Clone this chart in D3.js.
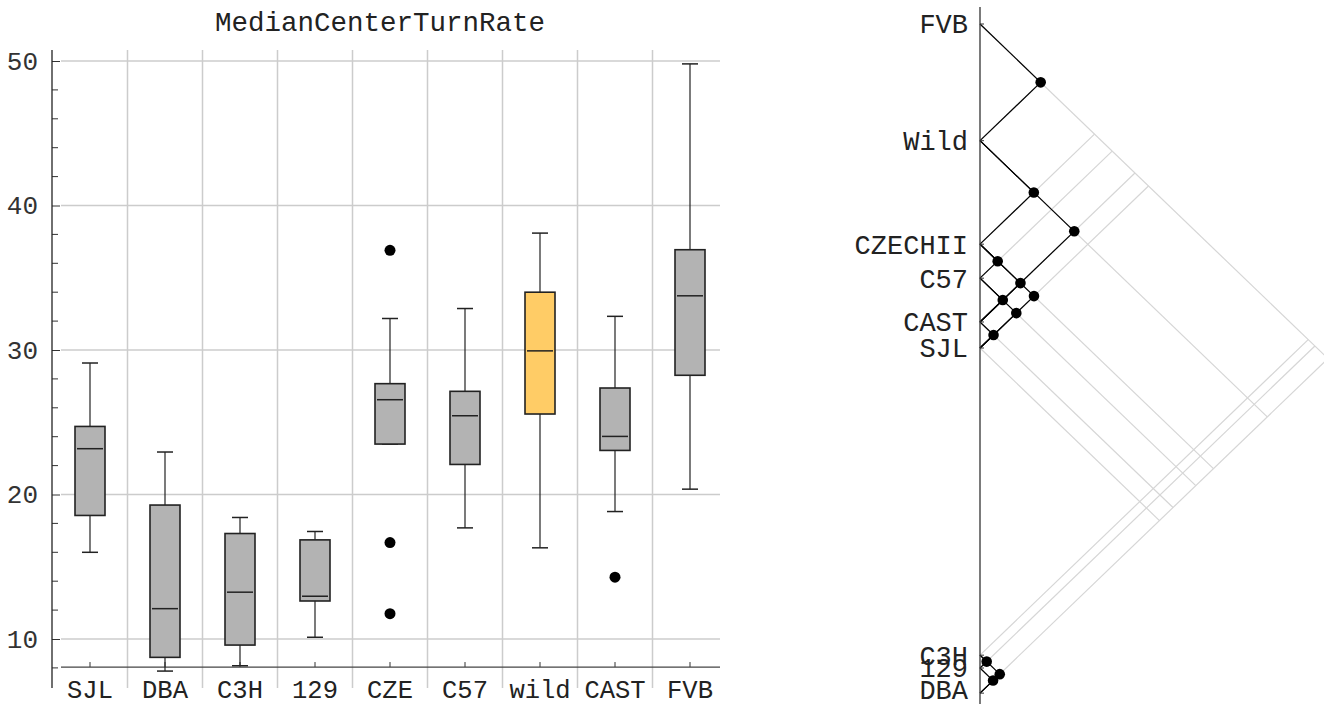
<!DOCTYPE html>
<html>
<head>
<meta charset="utf-8">
<script src="https://cdn.jsdelivr.net/npm/d3@7"></script>
<style>
  body { margin: 0; background: #fff; }
  svg { display: block; }
  text { font-family: "Liberation Mono", "DejaVu Sans Mono", monospace; }
</style>
</head>
<body>
<svg id="chart" width="1324" height="704"></svg>
<script>
// ---------- box plot data ----------
const categories = ["SJL", "DBA", "C3H", "129", "CZE", "C57", "wild", "CAST", "FVB"];
const whiskerLow = [16.0, 7.78, 8.15, 10.12, 23.49, 17.69, 16.31, 18.82, 20.37];
const q1 = [18.55, 8.73, 9.58, 12.63, 23.49, 22.08, 25.57, 23.05, 28.25];
const medians = [23.17, 12.1, 13.24, 12.96, 26.56, 25.45, 29.94, 24.02, 33.75];
const q3 = [24.71, 19.27, 17.3, 16.86, 27.67, 27.14, 34.0, 27.37, 36.94];
const whiskerHigh = [29.1, 22.94, 18.41, 17.44, 32.18, 32.87, 38.09, 32.33, 49.8];
const outliers = [[], [], [], [], [36.9, 16.67, 11.75], [], [], [14.28], []];
const highlight = "wild";
const yTicks = [10, 20, 30, 40, 50];

// ---------- dendrogram data ----------
const leaves = ["FVB", "Wild", "CZECHII", "C57", "CAST", "SJL", "C3H", "129", "DBA"];
const leafValues = [33.75, 29.94, 26.56, 25.45, 24.02, 23.17, 13.14, 12.72, 11.9];
const linkedPairs = [
    ["FVB", "Wild"], ["Wild", "CZECHII"], ["Wild", "CAST"],
    ["CZECHII", "C57"], ["CZECHII", "CAST"], ["C57", "CAST"],
    ["CZECHII", "SJL"], ["C57", "SJL"], ["CAST", "SJL"],
    ["C3H", "129"], ["C3H", "DBA"], ["129", "DBA"]
];

const svg = d3.select("#chart");

//------------------- box plot ----------------------------------------
const y = d3.scaleLinear().domain([10, 50]).range([639, 61]);
const x = d3.scaleBand().domain(categories).range([52.5, 727.5]);
const axisX = 52, gridLeft = 61, gridRight = 720;
const yTopVal = y.invert(50), yBotVal = y.invert(688), xAxisVal = 8.06;

// vertical grid lines between categories
const bounds = categories.slice(1).map(c => x(c));
svg.append("g").selectAll("line").data(bounds).join("line")
    .attr("x1", d => d).attr("x2", d => d)
    .attr("y1", y(yTopVal)).attr("y2", y(yBotVal))
    .attr("stroke", "#cccccc").attr("stroke-width", 1.5);

// horizontal grid lines
svg.append("g").selectAll("line").data(yTicks).join("line")
    .attr("x1", gridLeft).attr("x2", gridRight)
    .attr("y1", d => y(d)).attr("y2", d => y(d))
    .attr("stroke", "#cccccc").attr("stroke-width", 1.5);

// y axis (major + minor ticks pointing right)
const yAxis = svg.append("g").attr("transform", "translate(" + axisX + ",0)")
    .call(d3.axisLeft(y).tickValues(yTicks).tickSizeInner(-8).tickSizeOuter(0).tickPadding(14));
yAxis.select(".domain").remove();
yAxis.selectAll("line").attr("stroke", "#333");
yAxis.selectAll("text").attr("font-size", 26).attr("fill", "#333")
    .attr("font-family", "Liberation Mono, DejaVu Sans Mono, monospace");
const minorTicks = d3.range(8, 51, 2).filter(v => v % 10 != 0 && v <= yTopVal);
svg.append("g").selectAll("line").data(minorTicks).join("line")
    .attr("x1", axisX).attr("x2", axisX + 6)
    .attr("y1", d => y(d)).attr("y2", d => y(d))
    .attr("stroke", "#333");
svg.append("line")
    .attr("x1", axisX).attr("x2", axisX)
    .attr("y1", y(yTopVal)).attr("y2", y(yBotVal))
    .attr("stroke", "#222").attr("stroke-width", 1.3);

// x axis
const xAxis = svg.append("g").attr("transform", "translate(0," + y(xAxisVal) + ")")
    .call(d3.axisBottom(x).tickSizeInner(-5).tickSizeOuter(0).tickPadding(13));
xAxis.select(".domain").remove();
xAxis.selectAll("line").attr("stroke", "#333");
xAxis.selectAll("text").attr("font-size", 25.5).attr("fill", "#222")
    .attr("font-family", "Liberation Mono, DejaVu Sans Mono, monospace");
svg.append("line")
    .attr("x1", gridLeft).attr("x2", gridRight)
    .attr("y1", y(xAxisVal)).attr("y2", y(xAxisVal))
    .attr("stroke", "#444").attr("stroke-width", 1.3);

// boxes
const boxW = 30, capW = 16;
const boxes = svg.append("g").selectAll("g").data(categories).join("g");
boxes.each(function (c, i) {
    var g = d3.select(this);
    var cx = x(c) + x.bandwidth() / 2;
    // whiskers
    g.append("line").attr("x1", cx).attr("x2", cx)
        .attr("y1", y(whiskerHigh[i])).attr("y2", y(q3[i]))
        .attr("stroke", "#222").attr("stroke-width", 1.2);
    g.append("line").attr("x1", cx).attr("x2", cx)
        .attr("y1", y(q1[i])).attr("y2", y(whiskerLow[i]))
        .attr("stroke", "#222").attr("stroke-width", 1.2);
    g.append("line").attr("x1", cx - capW / 2).attr("x2", cx + capW / 2)
        .attr("y1", y(whiskerHigh[i])).attr("y2", y(whiskerHigh[i]))
        .attr("stroke", "#222").attr("stroke-width", 1.5);
    g.append("line").attr("x1", cx - capW / 2).attr("x2", cx + capW / 2)
        .attr("y1", y(whiskerLow[i])).attr("y2", y(whiskerLow[i]))
        .attr("stroke", "#222").attr("stroke-width", 1.5);
    // box
    g.append("rect")
        .attr("x", cx - boxW / 2).attr("width", boxW)
        .attr("y", y(q3[i])).attr("height", y(q1[i]) - y(q3[i]))
        .attr("fill", c == highlight ? "#ffcc66" : "#b3b3b3")
        .attr("stroke", "#222").attr("stroke-width", 1.6);
    // median
    g.append("line").attr("x1", cx - boxW / 2 + 2).attr("x2", cx + boxW / 2 - 2)
        .attr("y1", y(medians[i])).attr("y2", y(medians[i]))
        .attr("stroke", "#222").attr("stroke-width", 1.5);
    // outliers
    g.selectAll("circle").data(outliers[i]).join("circle")
        .attr("cx", cx).attr("cy", d => y(d)).attr("r", 5.5)
        .attr("fill", "#000");
});

// title
svg.append("text")
    .attr("x", 380).attr("y", 31)
    .attr("text-anchor", "middle")
    .attr("font-size", 27.5).attr("fill", "#222")
    .text("MedianCenterTurnRate");

//------------------- dendrogram ----------------------------------------
const dx0 = 980, slope = 1.04;
const yD = d3.scaleLinear().domain([33.75, 23.17]).range([24, 348]);
const leafY = {};
leaves.forEach((l, i) => leafY[l] = yD(leafValues[i]));

function meet(ya, yb) {
    return { x: dx0 + slope * Math.abs(yb - ya) / 2, y: (ya + yb) / 2 };
}

const topY = leafY[leaves[0]], botY = leafY[leaves[leaves.length - 1]];
const grid = svg.append("g");
leaves.forEach(function (l) {
    var ly = leafY[l];
    var down = meet(ly, botY);
    var up = meet(topY, ly);
    grid.append("line").attr("x1", dx0).attr("y1", ly).attr("x2", down.x).attr("y2", down.y)
        .attr("stroke", "#d6d6d6").attr("stroke-width", 1.2);
    grid.append("line").attr("x1", dx0).attr("y1", ly).attr("x2", up.x).attr("y2", up.y)
        .attr("stroke", "#d6d6d6").attr("stroke-width", 1.2);
});

const links = svg.append("g");
linkedPairs.forEach(function (p) {
    var ya = leafY[p[0]], yb = leafY[p[1]];
    var m = meet(ya, yb);
    links.append("line").attr("x1", dx0).attr("y1", ya).attr("x2", m.x).attr("y2", m.y)
        .attr("stroke", "#000").attr("stroke-width", 1.2);
    links.append("line").attr("x1", dx0).attr("y1", yb).attr("x2", m.x).attr("y2", m.y)
        .attr("stroke", "#000").attr("stroke-width", 1.2);
});
svg.append("g").selectAll("circle").data(linkedPairs).join("circle")
    .attr("cx", p => meet(leafY[p[0]], leafY[p[1]]).x)
    .attr("cy", p => meet(leafY[p[0]], leafY[p[1]]).y)
    .attr("r", 5.3).attr("fill", "#000");

// dendrogram axis and labels
svg.append("line").attr("x1", dx0).attr("x2", dx0).attr("y1", 7).attr("y2", 704)
    .attr("stroke", "#333").attr("stroke-width", 1.3);
svg.append("g").selectAll("line").data(leaves).join("line")
    .attr("x1", dx0).attr("x2", dx0 + 4)
    .attr("y1", d => leafY[d]).attr("y2", d => leafY[d])
    .attr("stroke", "#333");
svg.append("g").selectAll("text").data(leaves).join("text")
    .attr("x", 968).attr("y", d => Math.min(leafY[d], 690)).attr("dy", "0.35em")
    .attr("text-anchor", "end")
    .attr("font-size", 27).attr("fill", "#222")
    .text(d => d);
</script>
</body>
</html>
